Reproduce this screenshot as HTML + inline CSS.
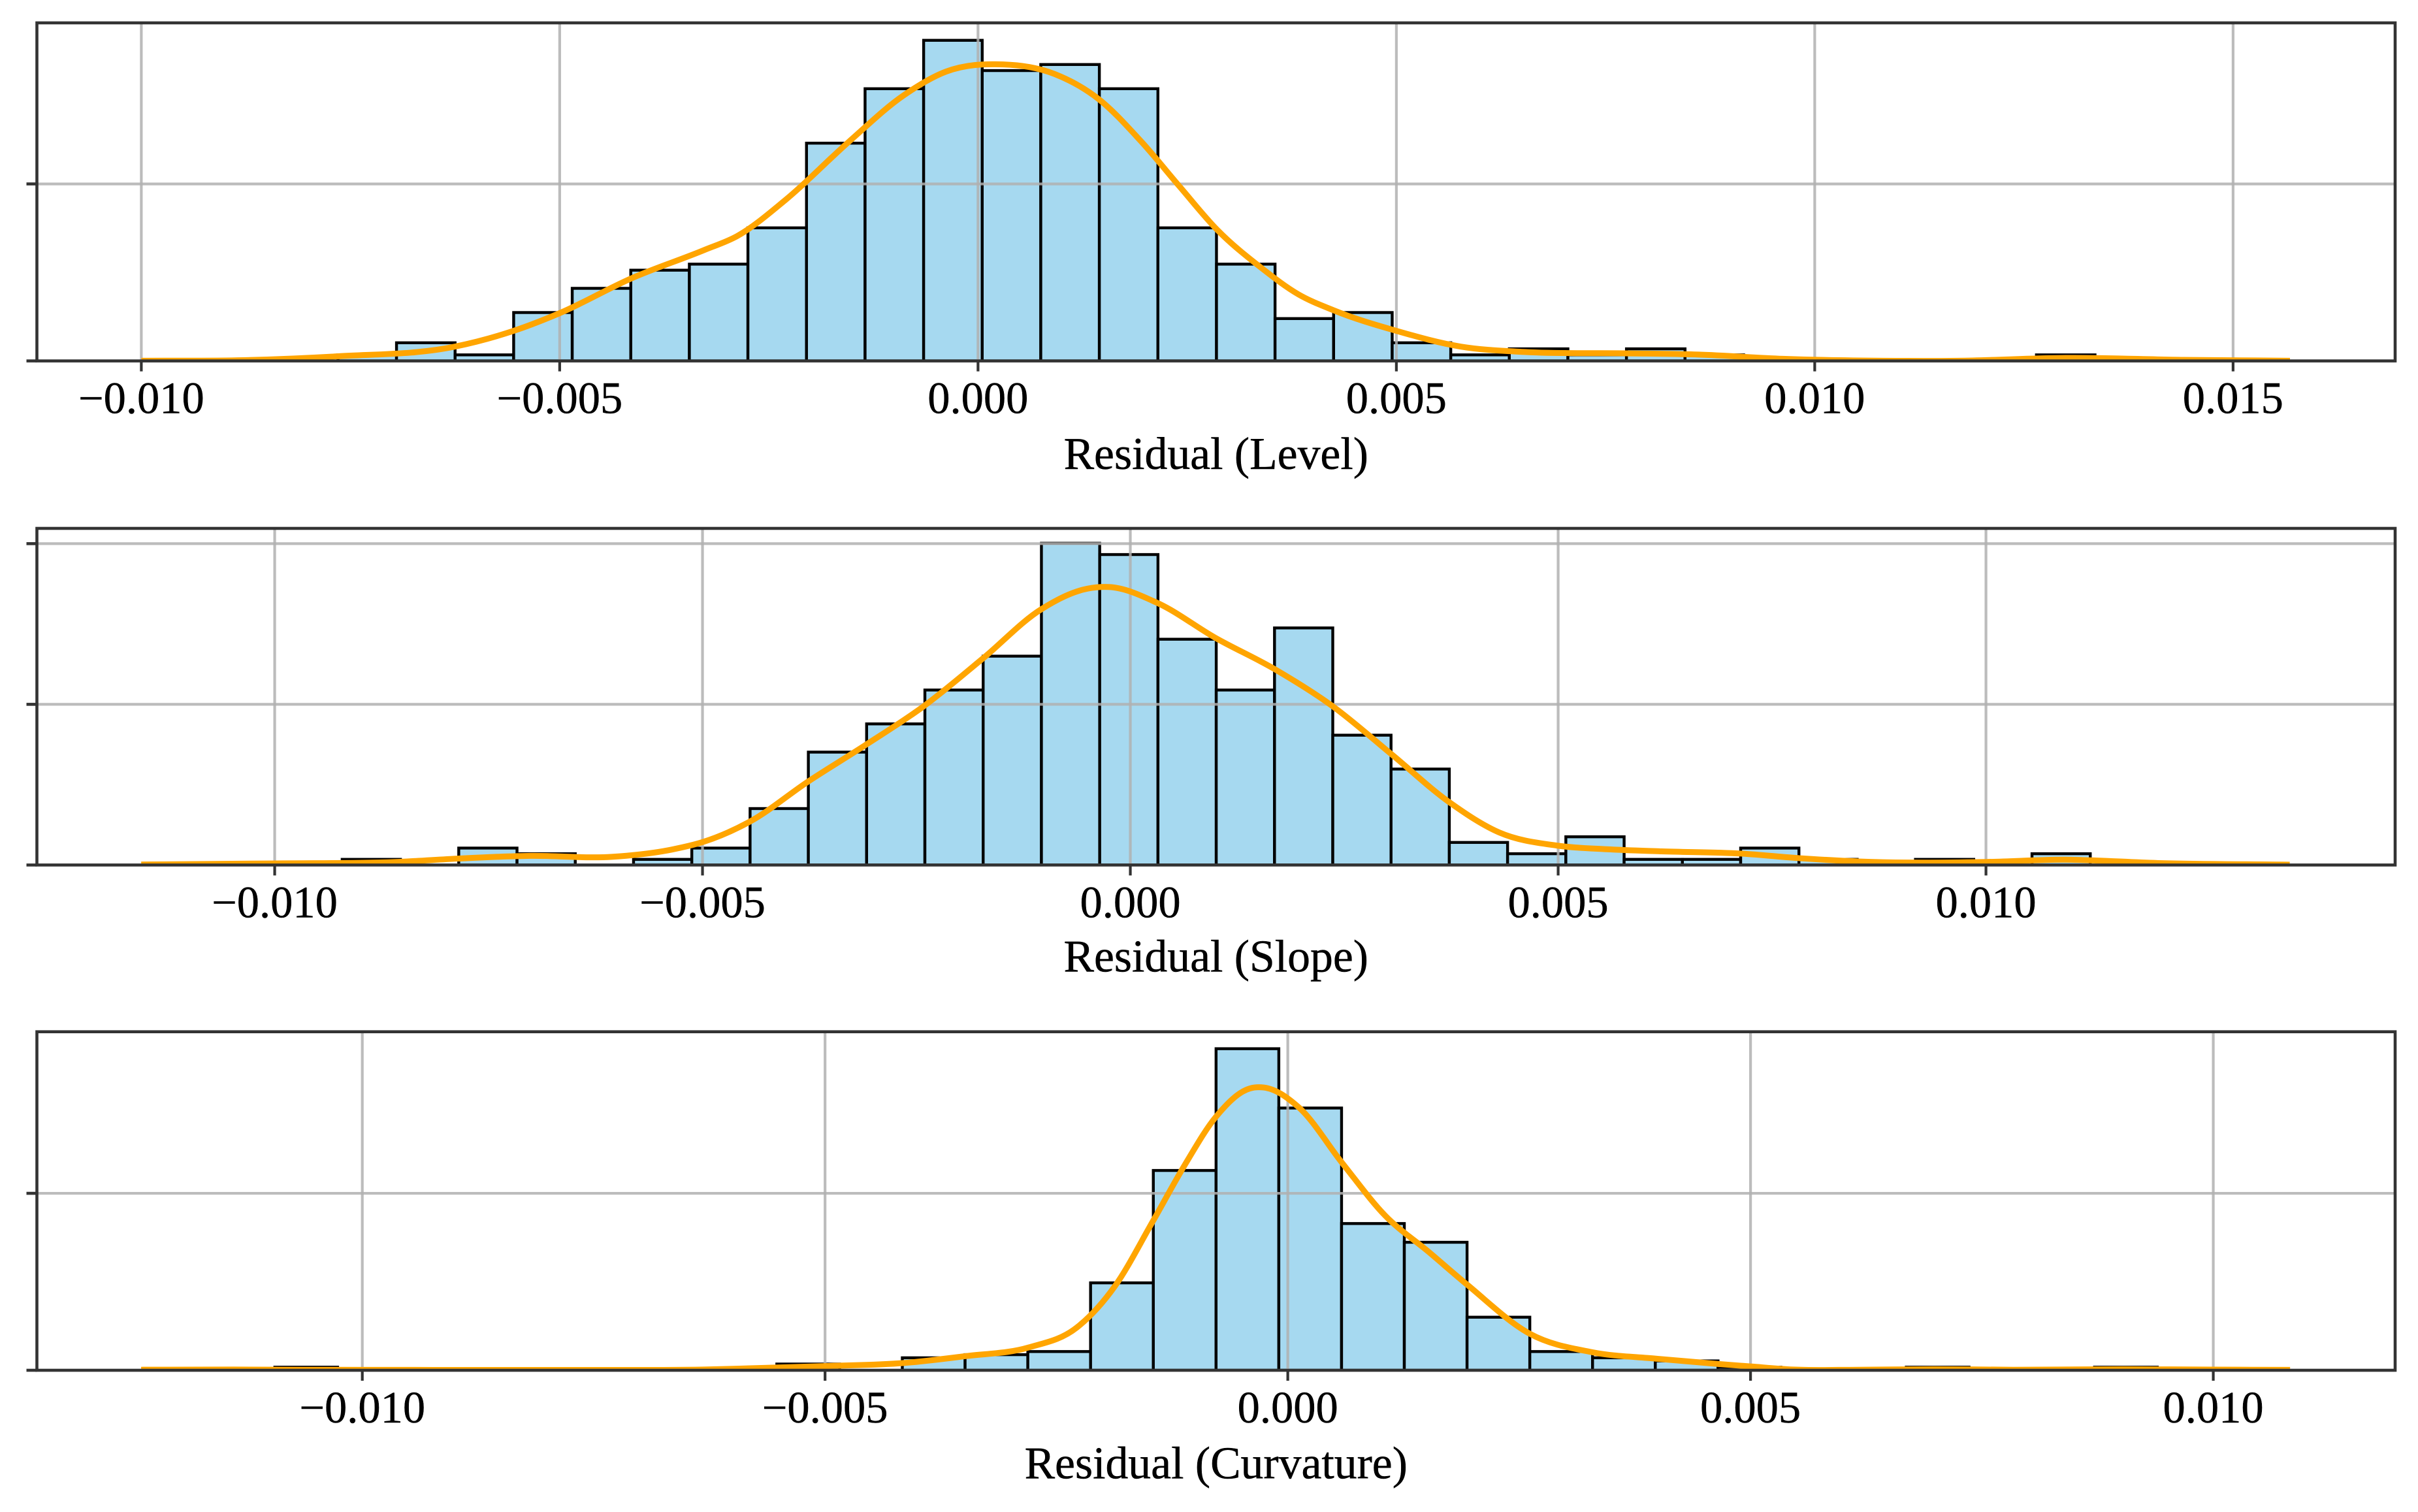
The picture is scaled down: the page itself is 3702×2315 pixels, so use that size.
<!DOCTYPE html>
<html lang="en">
<head>
<meta charset="utf-8">
<title>Residual distributions</title>
<style>
  html, body { margin: 0; padding: 0; background: #ffffff; width: 3702px; height: 2315px; overflow: hidden; }
  svg { display: block; }
  text { font-family: "Liberation Serif", "Times New Roman", serif; fill: #000000; stroke: #000000; stroke-width: 0.5px; }
</style>
</head>
<body>
<svg id="figure" xmlns="http://www.w3.org/2000/svg" width="3702" height="2315" viewBox="0 0 3702 2315"></svg>
<script>
// ---------- Level ----------
const levelBinStart = -0.00765;
const levelBinWidth = 0.0007;
const levelCounts = [1,3,1,8,12,15,16,22,36,45,53,48,49,45,22,16,7,8,3,1,2,1,2,1,0,0,0,0,0,1];
const levelKdeX = [-0.01,-0.00878,-0.00765,-0.00625,-0.00555,-0.005,-0.00415,-0.00327,-0.00288,-0.0023,-0.00154,-0.00089,-0.00038,0.0003,0.00092,0.00144,0.00195,0.00241,0.00286,0.00338,0.00383,0.00424,0.005,0.00577,0.00655,0.00774,0.00861,0.00962,0.01082,0.01171,0.013,0.01441,0.01568];
const levelKdeY = [0.1,0.4,2.6,8.1,17,27,46.5,62.7,70.5,91,124,150,163.5,167.5,162,148,124,98.5,74,52.8,37.6,28.8,17,8.1,5,4.3,3.6,1.2,0.1,0.1,1.7,0.6,0.1];
const levelXTicks = [-0.01,-0.005,0,0.005,0.01,0.015];
const levelXLabels = ["\u22120.010","\u22120.005","0.000","0.005","0.010","0.015"];
const levelYTicks = [0,100];
const levelXLim = [-0.011248,0.016937];
const levelYLim = [0,191];

// ---------- Slope ----------
const slopeBinStart = -0.009211;
const slopeBinWidth = 0.000681;
const slopeCounts = [1,0,3,2,0,1,3,10,20,25,31,37,57,55,40,31,42,23,17,4,2,5,1,1,3,1,0,1,0,2];
const slopeKdeX = [-0.01156,-0.00999,-0.00853,-0.00786,-0.00701,-0.00606,-0.00536,-0.00499,-0.00444,-0.00377,-0.0031,-0.00241,-0.00172,-0.00104,-0.0005,-0.00025,0.00032,0.00099,0.00169,0.00236,0.00306,0.00373,0.00431,0.005,0.00557,0.00621,0.00714,0.00783,0.00851,0.01,0.0109,0.01202,0.01355];
const slopeKdeY = [0.3,1,2,4,5.7,5.1,9.6,14.4,27.2,51.8,74.5,99,128.7,159.2,172,173,163,141.5,121.8,99,68.6,39,20.3,12,9.8,8.5,7.1,4.2,2.2,1.9,3.3,1.2,0.2];
const slopeXTicks = [-0.01,-0.005,0,0.005,0.01];
const slopeXLabels = ["\u22120.010","\u22120.005","0.000","0.005","0.010"];
const slopeYTicks = [0,100,200];
const slopeXLim = [-0.012779,0.014782];
const slopeYLim = [0,209.5];

// ---------- Curvature ----------
const curvatureBinStart = -0.010945;
const curvatureBinWidth = 0.000678;
const curvatureCounts = [1,0,0,0,0,0,0,0,2,0,4,5,6,28,64,103,84,47,41,17,6,4,3,1,0,0,1,0,0,1];
const curvatureKdeX = [-0.01239,-0.0114,-0.01064,-0.01,-0.00923,-0.00748,-0.00631,-0.00572,-0.00498,-0.00415,-0.00348,-0.0028,-0.00228,-0.00187,-0.00146,-0.00111,-0.00078,-0.00041,-0.00026,0.00012,0.00059,0.00105,0.00152,0.00194,0.00262,0.00329,0.00397,0.00464,0.005,0.00546,0.00616,0.00698,0.00784,0.00903,0.01,0.01083];
const curvatureKdeY = [0.6,0.8,0.6,0.5,0.4,0.4,0.8,2.5,4.8,8.2,16,25.8,48.3,94.8,168,232.6,286,318.5,319.6,297,234,175,134,96.6,41,20.4,13.2,7.2,4.3,0.8,0.6,1.2,0.6,1.2,0.7,0.5];
const curvatureXTicks = [-0.01,-0.005,0,0.005,0.01];
const curvatureXLabels = ["\u22120.010","\u22120.005","0.000","0.005","0.010"];
const curvatureYTicks = [0,200];
const curvatureXLim = [-0.013516,0.011965];
const curvatureYLim = [0,382.6];

const sampleSize = 418;
const SVG_NS = 'http://www.w3.org/2000/svg';
const svg = document.getElementById('figure');
const plotLeft = 56.5, plotRight = 3667;

const panels = [
  { key:'level', label:'Residual (Level)', top:35, bottom:552.6, tickBase:632.5, labelBase:718, binStart:levelBinStart, binWidth:levelBinWidth, counts:levelCounts, kdeX:levelKdeX, kdeY:levelKdeY, xTicks:levelXTicks, xLabels:levelXLabels, yTicks:levelYTicks, xLim:levelXLim, yLim:levelYLim },
  { key:'slope', label:'Residual (Slope)', top:809, bottom:1324.4, tickBase:1404.3, labelBase:1487.7, binStart:slopeBinStart, binWidth:slopeBinWidth, counts:slopeCounts, kdeX:slopeKdeX, kdeY:slopeKdeY, xTicks:slopeXTicks, xLabels:slopeXLabels, yTicks:slopeYTicks, xLim:slopeXLim, yLim:slopeYLim },
  { key:'curvature', label:'Residual (Curvature)', top:1579.7, bottom:2098, tickBase:2177.9, labelBase:2263.7, binStart:curvatureBinStart, binWidth:curvatureBinWidth, counts:curvatureCounts, kdeX:curvatureKdeX, kdeY:curvatureKdeY, xTicks:curvatureXTicks, xLabels:curvatureXLabels, yTicks:curvatureYTicks, xLim:curvatureXLim, yLim:curvatureYLim }
];

function make(tag, attrs, parent) {
  const node = document.createElementNS(SVG_NS, tag);
  for (const k in attrs) node.setAttribute(k, attrs[k]);
  parent.appendChild(node);
  return node;
}

// Draws a smooth curve through the knots using x-parameterised Hermite tangents.
function smoothPath(pts) {
  const n = pts.length;
  const slopes = pts.map(function (p, i) {
    if (i === 0) return (pts[1][1] - p[1]) / (pts[1][0] - p[0]);
    if (i === n - 1) return (p[1] - pts[i - 1][1]) / (p[0] - pts[i - 1][0]);
    const h0 = p[0] - pts[i - 1][0], h1 = pts[i + 1][0] - p[0];
    const s0 = (p[1] - pts[i - 1][1]) / h0, s1 = (pts[i + 1][1] - p[1]) / h1;
    return (s0 * h1 + s1 * h0) / (h0 + h1);
  });
  let d = 'M' + pts[0][0].toFixed(2) + ' ' + pts[0][1].toFixed(2);
  for (let i = 0; i < n - 1; i++) {
    const dx = (pts[i + 1][0] - pts[i][0]) / 3;
    d += 'C' + (pts[i][0] + dx).toFixed(2) + ' ' + (pts[i][1] + slopes[i] * dx).toFixed(2) + ' ' +
      (pts[i + 1][0] - dx).toFixed(2) + ' ' + (pts[i + 1][1] - slopes[i + 1] * dx).toFixed(2) + ' ' +
      pts[i + 1][0].toFixed(2) + ' ' + pts[i + 1][1].toFixed(2);
  }
  return d;
}

const defs = make('defs', {}, svg);

panels.forEach(function (p) {
  const xScale = function (v) { return plotLeft + (v - p.xLim[0]) / (p.xLim[1] - p.xLim[0]) * (plotRight - plotLeft); };
  const yScale = function (v) { return p.bottom - (v - p.yLim[0]) / (p.yLim[1] - p.yLim[0]) * (p.bottom - p.top); };

  const clip = make('clipPath', { id: 'clip-' + p.key }, defs);
  make('rect', { x: plotLeft, y: p.top, width: plotRight - plotLeft, height: p.bottom - p.top }, clip);

  const group = make('g', {}, svg);
  
  

  // bars
  p.counts.forEach(function (count, i) {
    if (count === 0) return;
    const density = count / (sampleSize * p.binWidth);
    const x0 = xScale(p.binStart + i * p.binWidth);
    const x1 = xScale(p.binStart + (i + 1) * p.binWidth);
    const yTop = yScale(density);
    const bar = make('rect', { x: x0, y: yTop, width: x1 - x0, height: p.bottom - yTop, fill: '#a6d9f0', stroke: '#000000', 'stroke-width': 4.4, 'clip-path': 'url(#clip-' + p.key + ')' }, group);
    
    
  });

  // grid
  p.xTicks.forEach(function (v) {
    const x = xScale(v);
    const line = make('line', { x1: x, x2: x, y1: p.top, y2: p.bottom, stroke: '#b0b0b0', 'stroke-opacity': 0.85, 'stroke-width': 4.2 }, group);
    
    
  });
  p.yTicks.forEach(function (v) {
    const y = yScale(v);
    const line = make('line', { x1: plotLeft, x2: plotRight, y1: y, y2: y, stroke: '#b0b0b0', 'stroke-opacity': 0.85, 'stroke-width': 4.2 }, group);
    
    
  });

  // kde
  const kdePoints = p.kdeX.map(function (v, i) { return [xScale(v), yScale(p.kdeY[i])]; });
  const kde = make('path', { d: smoothPath(kdePoints), fill: 'none', stroke: '#ffa500', 'stroke-width': 9, 'stroke-linejoin': 'round', 'clip-path': 'url(#clip-' + p.key + ')' }, group);
  
  

  // spines
  const spines = make('rect', { x: plotLeft, y: p.top, width: plotRight - plotLeft, height: p.bottom - p.top, fill: 'none', stroke: '#333333', 'stroke-width': 4.6 }, group);
  
  

  // y ticks
  p.yTicks.forEach(function (v) {
    const y = yScale(v);
    const tick = make('line', { x1: plotLeft - 16, x2: plotLeft, y1: y, y2: y, stroke: '#333333', 'stroke-width': 4.6 }, group);
    
    
  });

  // x ticks and labels
  p.xTicks.forEach(function (v, i) {
    const x = xScale(v);
    const tick = make('line', { x1: x, x2: x, y1: p.bottom, y2: p.bottom + 16, stroke: '#333333', 'stroke-width': 4.2 }, group);
    
    
    const label = make('text', { x: x, y: p.tickBase, 'text-anchor': 'middle', 'font-size': 68.5 }, group);
    label.textContent = p.xLabels[i];
    
    
  });

  // axis title
  const title = make('text', { x: (plotLeft + plotRight) / 2, y: p.labelBase, 'text-anchor': 'middle', 'font-size': 69.7 }, group);
  title.textContent = p.label;
  
  
});
</script>
</body>
</html>
